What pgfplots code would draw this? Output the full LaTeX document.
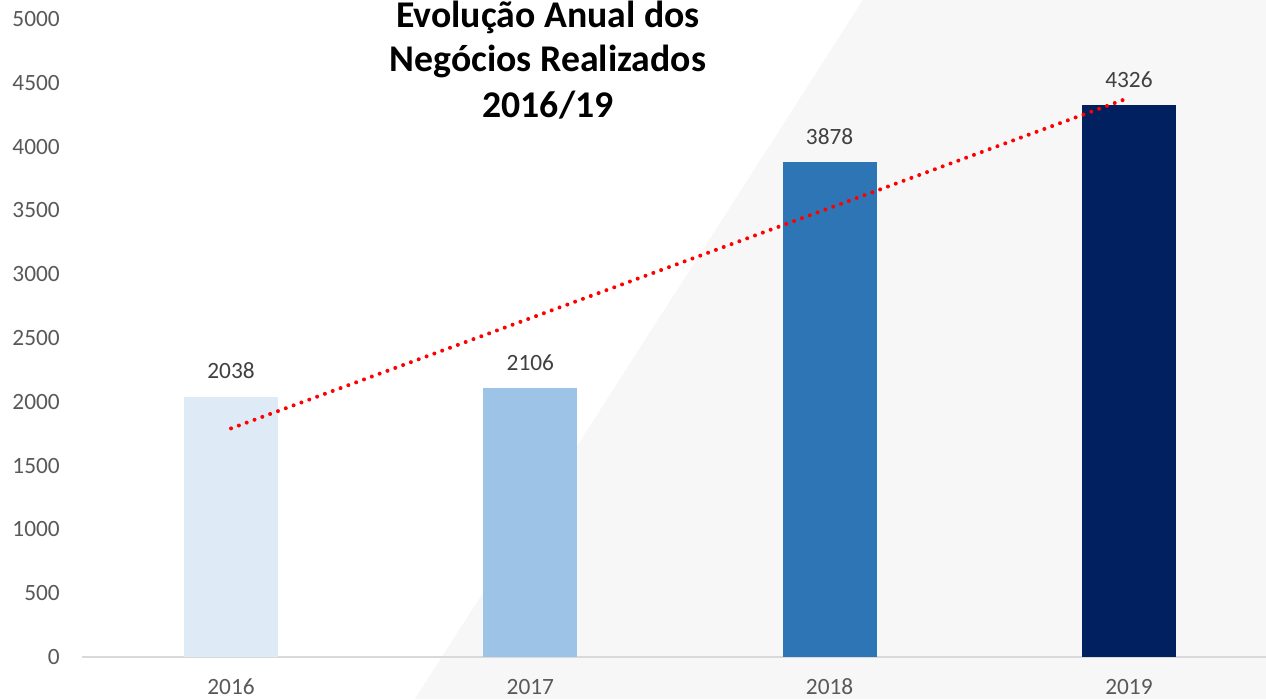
\documentclass[border=0pt]{standalone}
\usepackage{fontspec}
\setmainfont{Carlito}
\usepackage{pgfplots}
\pgfplotsset{compat=1.18}
\definecolor{cA}{HTML}{DEEBF7}
\definecolor{cB}{HTML}{9DC3E6}
\definecolor{cC}{HTML}{2E75B6}
\definecolor{cD}{HTML}{002060}
\definecolor{bggray}{HTML}{F7F7F7}
\definecolor{axgray}{HTML}{D9D9D9}
\definecolor{tickgray}{HTML}{595959}
\definecolor{labgray}{HTML}{404040}
\begin{document}
\begin{tikzpicture}
\fill[white] (0,0) rectangle (949.5pt,524.25pt);
\fill[bggray] (311.25pt,0pt) -- (647.25pt,524.25pt) -- (949.5pt,524.25pt) -- (949.5pt,0pt) -- cycle;
\begin{axis}[
  at={(61.5pt,31.5pt)}, anchor=south west,
  scale only axis, width=888pt, height=478.5pt,
  xmin=-0.498, xmax=3.458, ymin=0, ymax=5000,
  enlargelimits=false, clip=false,
  axis x line=bottom, axis y line=left,
  x axis line style={-, draw=axgray, line width=1.1pt},
  y axis line style={draw=none},
  xtick={0,1,2,3}, xticklabels={2016,2017,2018,2019},
  ytick={0,500,...,5000},
  major tick length=0pt,
  tick style={draw=none},
  /pgf/number format/.cd, 1000 sep={}, assume math mode=true,
  /pgfplots/.cd,
  tick label style={font=\fontsize{17.5}{21}\selectfont, text=tickgray},
  yticklabel style={anchor=east, inner sep=0pt, xshift=-16.5pt},
  xticklabel style={anchor=base, inner sep=0pt, yshift=-27.75pt},
  every node near coord/.append style={anchor=base, inner sep=0pt, yshift=13.5pt,
     font=\fontsize{17.5}{21}\selectfont, text=labgray},
]
\addplot[ybar, bar width=70.5pt, fill=cA, draw=none, nodes near coords] coordinates {(0,2038)};
\addplot[ybar, bar width=70.5pt, fill=cB, draw=none, nodes near coords] coordinates {(1,2106)};
\addplot[ybar, bar width=70.5pt, fill=cC, draw=none, nodes near coords] coordinates {(2,3878)};
\addplot[ybar, bar width=70.5pt, fill=cD, draw=none, nodes near coords] coordinates {(3,4326)};
\addplot[red, line width=3pt, line cap=round, dash pattern=on 0pt off 6.25pt] coordinates {(0,1791.6) (3,4382.4)};
\end{axis}
\begin{scope}[every node/.style={anchor=base, inner sep=0pt, font=\fontsize{28.3}{33}\selectfont\bfseries}]
\node at (411pt,503.25pt) {Evolução Anual dos};
\node at (411pt,470.25pt) {Negócios Realizados};
\node at (411pt,435.75pt) {2016/19};
\end{scope}
\pgfresetboundingbox
\useasboundingbox (0,0) rectangle (949.5pt,524.25pt);
\end{tikzpicture}
\end{document}
